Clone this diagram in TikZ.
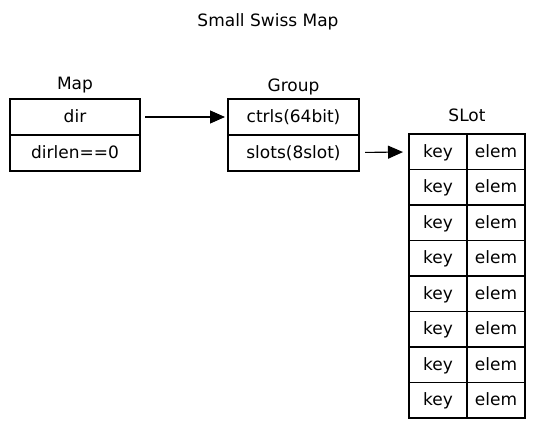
\documentclass[tikz,border=0pt]{standalone}
\usepackage{fontspec}
\setmainfont{DejaVu Sans}
\usetikzlibrary{arrows.meta,positioning}

\begin{document}
\begin{tikzpicture}[x=1pt, y=-1pt,
  font=\fontsize{17}{20}\selectfont,
  cell/.style={draw, line width=1.1pt, outer sep=0pt, inner sep=0pt,
    minimum height=36pt, text height=13pt, text depth=2pt},
  mapcell/.style={cell, minimum width=130pt},
  slotcell/.style={cell, minimum width=58pt, minimum height=35.5pt},
  title/.style={inner sep=2pt},
  ptr/.style={-{Triangle[length=15pt,width=13pt]}, line width=1.1pt}]
\useasboundingbox (0,0) rectangle (535,428);
% Title
\node[title] (head) at (268,22) {Small Swiss Map};
% Map
\node[mapcell] (dir) at (75,117) {dir};
\node[mapcell, below=0pt of dir] (dirlen) {dirlen==0};
\node[title, above=4pt of dir] (maplabel) {Map};
% Group
\node[mapcell, minimum width=131pt] (ctrls) at (293.5,117) {ctrls(64bit)};
\node[mapcell, minimum width=131pt, below=0pt of ctrls] (slots) {slots(8slot)};
\node[title, above=2pt of ctrls] (grouplabel) {Group};
% Slot rows
\node[slotcell] (key1) at (438,151.75) {key};
\node[slotcell, right=0pt of key1] (elem1) {elem};
\foreach \i [count=\j from 2] in {1,...,7} {
  \node[slotcell, below=0pt of key\i] (key\j) {key};
  \node[slotcell, right=0pt of key\j] (elem\j) {elem};
}
\node[title, above=10pt of key1.north east] (slotlabel) {SLot};
% Pointers
\draw[ptr, shorten <=5pt, shorten >=3pt] (dir) -- (ctrls);
\draw[ptr, shorten <=6pt, shorten >=6pt] (slots) -- (key1);
\end{tikzpicture}
\end{document}
